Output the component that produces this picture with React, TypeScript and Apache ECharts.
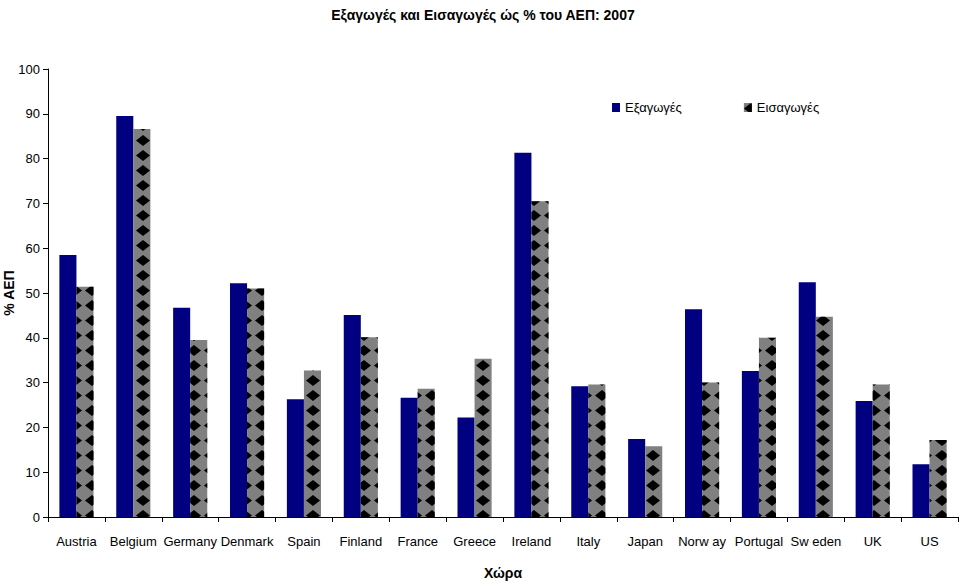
import React, { useEffect, useRef } from "react";
import * as echarts from "echarts";

const countries = ["Austria", "Belgium", "Germany", "Denmark", "Spain", "Finland", "France", "Greece", "Ireland", "Italy", "Japan", "Norw ay", "Portugal", "Sw eden", "UK", "US"];
const exportsPct = [58.5, 89.5, 46.7, 52.2, 26.3, 45.1, 26.6, 22.2, 81.3, 29.2, 17.4, 46.4, 32.6, 52.4, 25.9, 11.8];
const importsPct = [51.4, 86.6, 39.5, 51.0, 32.7, 40.1, 28.6, 35.3, 70.5, 29.6, 15.8, 30.0, 40.0, 44.7, 29.6, 17.2];
const yTicks = [0, 10, 20, 30, 40, 50, 60, 70, 80, 90, 100];

const FONT = "'Liberation Sans', Arial, sans-serif";

export default function App() {
  const ref = useRef<HTMLDivElement>(null);
  useEffect(() => {
    if (!ref.current) return;
    const chart = echarts.init(ref.current, undefined, { renderer: "svg" });
    chart.setOption({
      animation: false,
      backgroundColor: "#fff",
      textStyle: { fontFamily: FONT },
      title: {
        text: "Εξαγωγές και Εισαγωγές ώς % του ΑΕΠ: 2007",
        left: 478,
        textAlign: "center",
        top: 3,
        textStyle: { fontFamily: FONT, fontSize: 14, fontWeight: "bold", color: "#000" },
      },
      legend: {
        left: 607,
        top: 96,
        icon: "rect",
        itemWidth: 8,
        itemHeight: 9,
        itemGap: 62,
        textStyle: { fontFamily: FONT, fontSize: 13, color: "#000" },
        data: ["Εξαγωγές", "Εισαγωγές"],
      },
      grid: { left: 48, right: 2, top: 69, bottom: 67, containLabel: false, outerBoundsMode: "none" },
      xAxis: {
        type: "category",
        data: countries,
        name: "Χώρα",
        nameLocation: "middle",
        nameGap: 49,
        nameMoveOverlap: false,
        nameTextStyle: { fontFamily: FONT, fontSize: 14, fontWeight: "bold", color: "#000" },
        axisLine: { lineStyle: { color: "#000", width: 1 } },
        axisTick: { show: true, length: 5, alignWithLabel: false, lineStyle: { color: "#000" } },
        axisLabel: { color: "#000", fontSize: 13, margin: 18, fontFamily: FONT, interval: 0 },
      },
      yAxis: {
        type: "value",
        min: yTicks[0],
        max: yTicks[yTicks.length - 1],
        interval: 10,
        name: "% ΑΕΠ",
        nameLocation: "middle",
        nameGap: 32,
        nameMoveOverlap: false,
        nameRotate: 90,
        nameTextStyle: { fontFamily: FONT, fontSize: 14, fontWeight: "bold", color: "#000" },
        axisLine: { show: true, lineStyle: { color: "#000", width: 1 } },
        axisTick: { show: true, length: 5, lineStyle: { color: "#000" } },
        axisLabel: { color: "#000", fontSize: 13, margin: 8, fontFamily: FONT },
        splitLine: { show: false },
      },
      series: [
        {
          name: "Εξαγωγές",
          type: "bar",
          data: exportsPct,
          barGap: "0%",
          barCategoryGap: "40%",
          itemStyle: { color: "#000080" },
        },
        {
          name: "Εισαγωγές",
          type: "bar",
          data: importsPct,
          barGap: "0%",
          barCategoryGap: "40%",
          itemStyle: {
            color: "#808080",
            decal: {
              symbol: "diamond",
              symbolSize: 1,
              symbolKeepAspect: false,
              color: "#000",
              dashArrayX: [14, 3],
              dashArrayY: [11, 4],
              rotation: 0,
            },
          },
        },
      ],
    });
    return () => chart.dispose();
  }, []);
  return <div ref={ref} style={{ width: 960, height: 584, position: "absolute", left: 0, top: 0 }} />;
}
